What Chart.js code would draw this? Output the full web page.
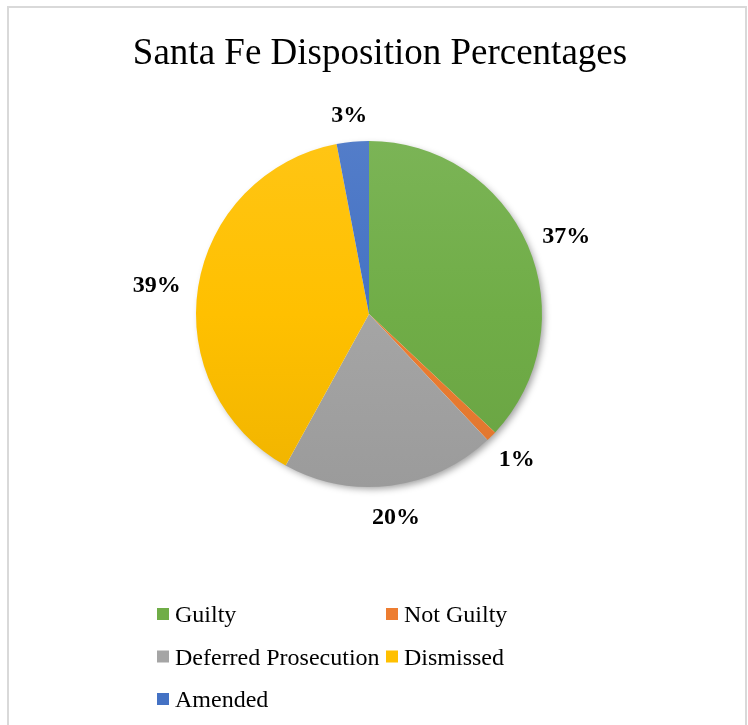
<!DOCTYPE html>
<html>
<head>
<meta charset="utf-8">
<script src="https://cdn.jsdelivr.net/npm/chart.js@4/dist/chart.umd.min.js"></script>
<style>
  html, body { margin: 0; padding: 0; background: #ffffff; }
  #wrap { position: relative; width: 748px; height: 725px; }
</style>
</head>
<body>
<div id="wrap"><canvas id="pie" width="748" height="725"></canvas></div>
<script>
// Disposition outcomes, Santa Fe (percent of cases)
const chartTitle = 'Santa Fe Disposition Percentages';
const categories = ['Guilty', 'Not Guilty', 'Deferred Prosecution', 'Dismissed', 'Amended'];
const percentages = [37, 1, 20, 39, 3];
const sliceColors = ['#70AD47', '#ED7D31', '#A5A5A5', '#FFC000', '#4472C4'];

const SERIF = '"Liberation Serif", "Times New Roman", serif';

function shade(hex, amt) {
  // amt > 0 mixes toward white, amt < 0 toward black
  const n = parseInt(hex.slice(1), 16);
  let r = (n >> 16) & 255, g = (n >> 8) & 255, b = n & 255;
  const t = amt > 0 ? 255 : 0, p = Math.abs(amt);
  r = Math.round(r + (t - r) * p);
  g = Math.round(g + (t - g) * p);
  b = Math.round(b + (t - b) * p);
  return `rgb(${r},${g},${b})`;
}

function sliceFill(ctx) {
  const base = sliceColors[ctx.dataIndex];
  const area = ctx.chart.chartArea;
  if (!area) return base;
  const g = ctx.chart.ctx.createLinearGradient(0, area.top, 0, area.bottom);
  g.addColorStop(0, shade(base, 0.08));
  g.addColorStop(0.5, base);
  g.addColorStop(1, shade(base, -0.06));
  return g;
}

// Frame around the whole figure
const framePlugin = {
  id: 'frame',
  beforeDraw(chart) {
    const c = chart.ctx;
    c.save();
    c.strokeStyle = '#d9d9d9';
    c.lineWidth = 2;
    c.strokeRect(8, 7, 738, 740);
    c.restore();
  }
};

// Title text
const titlePlugin = {
  id: 'titleText',
  afterDraw(chart) {
    const c = chart.ctx;
    c.save();
    c.font = `37px ${SERIF}`;
    c.fillStyle = '#000000';
    c.textAlign = 'center';
    c.textBaseline = 'alphabetic';
    c.fillText(chartTitle, 380, 64);
    c.restore();
  }
};

// Soft drop shadow under the pie
const shadowPlugin = {
  id: 'pieShadow',
  beforeDatasetsDraw(chart) {
    const arc = chart.getDatasetMeta(0).data[0];
    if (!arc) return;
    const c = chart.ctx;
    c.save();
    c.shadowColor = 'rgba(0,0,0,0.38)';
    c.shadowBlur = 7;
    c.shadowOffsetX = 3;
    c.shadowOffsetY = 3;
    c.fillStyle = '#ffffff';
    c.beginPath();
    c.arc(arc.x, arc.y, arc.outerRadius - 1, 0, Math.PI * 2);
    c.fill();
    c.restore();
  }
};

// Percentage labels outside each slice
const outsideLabels = {
  id: 'outsideLabels',
  afterDatasetsDraw(chart) {
    const c = chart.ctx;
    const meta = chart.getDatasetMeta(0);
    const values = chart.data.datasets[0].data;
    c.save();
    c.font = `bold 24px ${SERIF}`;
    c.fillStyle = '#000000';
    c.textAlign = 'center';
    c.textBaseline = 'middle';
    meta.data.forEach((arc, i) => {
      const mid = (arc.startAngle + arc.endAngle) / 2;
      const dx = Math.cos(mid), dy = Math.sin(mid);
      const text = values[i] + '%';
      const w = c.measureText(text).width;
      const h = 22;
      const d = arc.outerRadius + 18;
      const x = arc.x + dx * d + dx * w / 2;
      const y = arc.y + dy * d + dy * h / 2 + 3;
      c.fillText(text, x, y);
    });
    c.restore();
  }
};

// Two-column legend below the pie
const gridLegend = {
  id: 'gridLegend',
  afterDraw(chart) {
    const c = chart.ctx;
    const labels = chart.data.labels;
    const colStart = 157, colWidth = 229, rowStart = 614, rowGap = 42.5, box = 12;
    c.save();
    c.font = `24px ${SERIF}`;
    c.textBaseline = 'middle';
    c.textAlign = 'left';
    labels.forEach((label, i) => {
      const col = i % 2, row = Math.floor(i / 2);
      const x = colStart + col * colWidth;
      const y = rowStart + row * rowGap;
      c.fillStyle = sliceColors[i];
      c.fillRect(x, y - box / 2, box, box);
      c.fillStyle = '#000000';
      c.fillText(label, x + box + 6, y + 2);
    });
    c.restore();
  }
};

new Chart(document.getElementById('pie'), {
  type: 'pie',
  data: {
    labels: categories,
    datasets: [{
      data: percentages,
      backgroundColor: sliceFill,
      borderWidth: 0,
      hoverOffset: 0
    }]
  },
  options: {
    responsive: false,
    animation: false,
    layout: { padding: { left: 196, right: 206, top: 141, bottom: 238 } },
    plugins: {
      legend: { display: false },
      title: { display: false },
      tooltip: { enabled: false }
    }
  },
  plugins: [framePlugin, shadowPlugin, outsideLabels, titlePlugin, gridLegend]
});
</script>
</body>
</html>
